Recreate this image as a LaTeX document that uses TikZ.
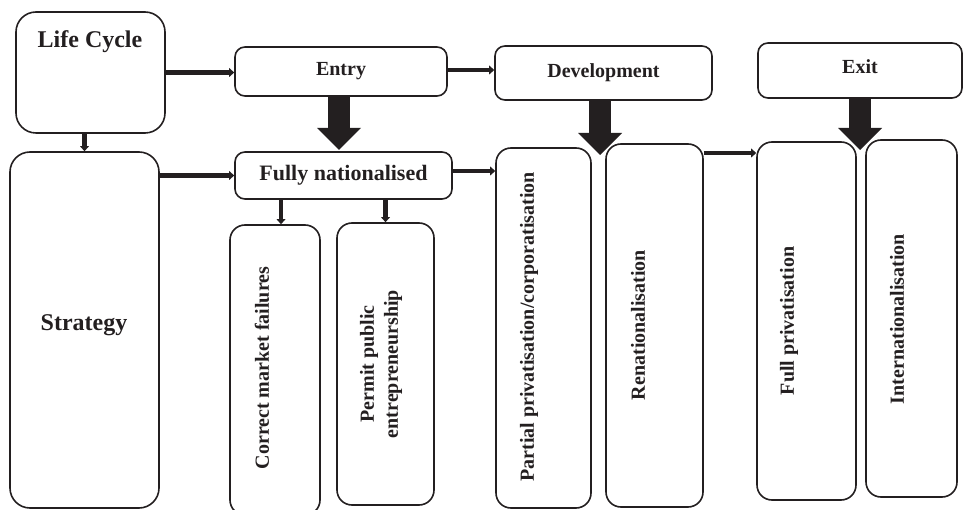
\documentclass[tikz,border=0pt]{standalone}
\usepackage{fontspec}
\setmainfont{Liberation Serif}
\usetikzlibrary{arrows.meta}
\definecolor{ink}{HTML}{231F20}
\begin{document}
\begin{tikzpicture}[x=1pt,y=-1pt,
  box/.style={draw=ink, line width=1.6pt, rounded corners=#1, inner sep=0pt, text=ink,
    font=\bfseries\fontsize{20}{24}\selectfont},
  box/.default=12pt,
  lbl/.style={text=ink, font=\bfseries\fontsize{20}{24}\selectfont, inner sep=0pt},
  big/.style={text=ink, font=\bfseries\fontsize{24}{28}\selectfont, inner sep=0pt},
  vlbl/.style={lbl, rotate=90},
  thinarr/.style={draw=ink, line width=4.5pt, -{Triangle[length=5pt,width=9pt,line width=0pt]}},
  fatarr/.style={draw=ink, line width=22pt, -{Triangle[length=22pt,width=44pt,line width=0pt]}}]
\useasboundingbox (0,0) rectangle (975,510);

% boxes
\node[box=20pt, minimum width=149pt, minimum height=121pt] (lc) at (90.5,72.5) {};
\node[big] (lct) at (90,42) {Life Cycle};
\node[box=20pt, minimum width=149pt, minimum height=356pt] (strat) at (84.5,330) {};
\node[big] (stt) at (84,325) {Strategy};

\node[box=10pt, minimum width=212pt, minimum height=49pt] (entry) at (341,71.5) {Entry};
\node[box=10pt, minimum width=217pt, minimum height=54pt] (dev) at (603.5,73) {Development};
\node[box=10pt, minimum width=204pt, minimum height=55pt] (exit) at (860,70.5) {};
\node[lbl] (exitt) at (860,67) {Exit};
\node[box=10pt, minimum width=217pt, minimum height=47pt,
      font=\bfseries\fontsize{22}{26}\selectfont] (fn) at (343.5,175.5) {Fully nationalised};

\node[box=15pt, minimum width=90pt, minimum height=290pt] (cmf) at (275,370) {};
\node[vlbl] (cmft) at (262,368) {Correct market failures};
\node[box=15pt, minimum width=97pt, minimum height=282pt] (ppe) at (385.5,364) {};
\node[vlbl, align=center] (ppet) at (381,364) {Permit public\\entrepreneurship};

\node[box=15pt, minimum width=95pt, minimum height=360pt] (ppc) at (543.5,328) {};
\node[vlbl] (ppct) at (529,327) {Partial privatisation/corporatisation};
\node[box=15pt, minimum width=97pt, minimum height=363pt] (ren) at (654.5,325.5) {};
\node[vlbl] (rent) at (638,325) {Renationalisation};

\node[box=15pt, minimum width=99pt, minimum height=358pt] (fp) at (806.5,321) {};
\node[vlbl] (fpt) at (789,321) {Full privatisation};
\node[box=15pt, minimum width=91pt, minimum height=357pt] (intl) at (911.5,318.5) {};
\node[vlbl] (intlt) at (897,319) {Internationalisation};

% thin connectors
\draw[thinarr] (lc.east) -- (lc.east -| entry.west);
\draw[thinarr] (lc.south -| strat.north) -- (strat.north);
\draw[thinarr] (strat.east |- fn.west) -- (fn.west);
\draw[thinarr] ([yshift=1.5pt]entry.east) -- ([yshift=1.5pt]entry.east -| dev.west);
\draw[thinarr] ([yshift=4.5pt]fn.east) -- ([yshift=4.5pt]fn.east -| ppc.west);
\draw[thinarr] (ren.east |- 0,153) -- (fp.west |- 0,153);
\draw[thinarr] (fn.south -| cmf.north) ++(6,0) coordinate (a1) (a1) -- (a1 |- cmf.north);
\draw[thinarr] (fn.south -| ppe.north) coordinate (a2) (a2) -- (ppe.north);

% fat connectors
\coordinate (enttip) at (339,150);
\coordinate (devtip) at (600,155);
\coordinate (exittip) at (860,150);
\draw[fatarr] (entry.south -| enttip) -- (enttip);
\draw[fatarr] (dev.south -| devtip) -- (devtip);
\draw[fatarr] (exit.south -| exittip) -- (exittip);
\end{tikzpicture}
\end{document}
